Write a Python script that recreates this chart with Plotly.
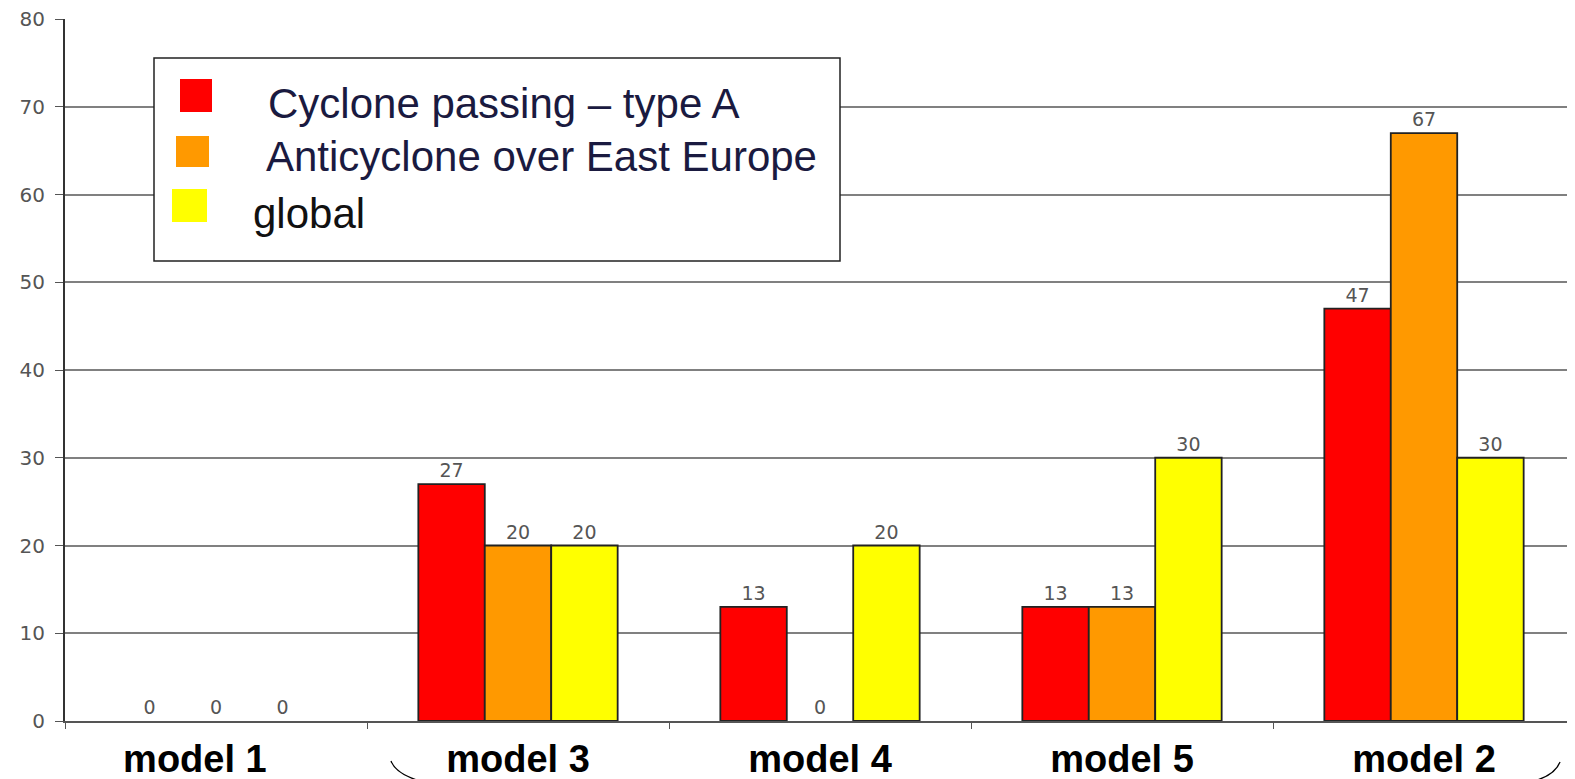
import plotly.graph_objects as go

categories = ["model 1", "model 3", "model 4", "model 5", "model 2"]
cyclone_a = [0, 27, 13, 13, 47]
anticyclone_ee = [0, 20, 0, 13, 67]
global_vals = [0, 20, 20, 30, 30]
series_names = ["Cyclone passing – type A", "Anticyclone over East Europe", "global"]
series_colors = ["#FF0000", "#FF9900", "#FFFF00"]
y_ticks = [0, 10, 20, 30, 40, 50, 60, 70, 80]
# first label sits slightly left of its category in the original
x_ticktext = ["model 1\u00a0\u00a0\u00a0\u00a0", "model 3", "model 4", "model 5", "model 2"]

# page body has an 8px margin; size the figure to fill the viewport
OFF = 8
W, H = 1575 - OFF, 779 - OFF
L, R, T, B = 57, 0, 11, 58
PW, PH = W - L - R, H - T - B


def sp(sx, sy):
    """screen pixel -> paper coords"""
    return (sx - OFF - L) / PW, (OFF + H - B - sy) / PH


fig = go.Figure()
for name, vals, col in zip(series_names, [cyclone_a, anticyclone_ee, global_vals], series_colors):
    fig.add_trace(go.Bar(
        x=categories, y=vals, name=name,
        marker=dict(color=col, line=dict(color="#222222", width=[1.8 if v else 0 for v in vals])),
        text=[str(v) for v in vals], textposition="outside",
        textfont=dict(family="DejaVu Sans", size=19, color="#555555"),
        cliponaxis=False,
    ))

shapes = []
annotations = []

# decorative brackets under the axis
a0, a1, a2 = sp(391, 761), sp(396, 774), sp(420, 781)
b0, b1, b2 = sp(1560, 762), sp(1555, 775), sp(1534, 781)
for p0, p1, p2 in [(a0, a1, a2), (b0, b1, b2)]:
    shapes.append(dict(type="path", xref="paper", yref="paper",
                       path=f"M {p0[0]},{p0[1]} Q {p1[0]},{p1[1]} {p2[0]},{p2[1]}",
                       line=dict(color="black", width=1.3)))

# legend box
lx0, ly0 = sp(154, 58)
lx1, ly1 = sp(840, 261)
shapes.append(dict(type="rect", xref="paper", yref="paper", x0=lx0, y0=ly0, x1=lx1, y1=ly1,
                   fillcolor="white", line=dict(color="#222222", width=1.5), layer="above"))
swatches = [((180, 79), (212, 112)), ((176, 136), (209, 167)), ((172, 189), (207, 222))]
text_pos = [(266, 103), (264, 156), (251, 213)]
text_cols = ["#1a1a40", "#1a1a40", "#111111"]
for (p, q), col, name, (tx, ty), tc in zip(swatches, series_colors, series_names, text_pos, text_cols):
    x0, y0 = sp(*p)
    x1, y1 = sp(*q)
    shapes.append(dict(type="rect", xref="paper", yref="paper", x0=x0, y0=y0, x1=x1, y1=y1,
                       fillcolor=col, line=dict(width=0), layer="above"))
    ax, ay = sp(tx, ty)
    annotations.append(dict(xref="paper", yref="paper", x=ax, y=ay, xanchor="left", yanchor="middle",
                            text=name, showarrow=False,
                            font=dict(family="Liberation Sans, Arial", size=42, color=tc)))

fig.update_layout(
    width=W, height=H,
    margin=dict(l=L, r=R, t=T, b=B),
    paper_bgcolor="white", plot_bgcolor="white",
    barmode="group", bargap=0.34, bargroupgap=0.0,
    font=dict(family="Liberation Sans, Arial"),
    showlegend=False,
    xaxis=dict(
        type="category",
        tickmode="array", tickvals=categories, ticktext=x_ticktext,
        showline=True, linecolor="#555555", linewidth=2,
        ticks="outside", tickson="boundaries", ticklen=6, tickcolor="#555555",
        tickfont=dict(family="Liberation Sans, Arial", size=38, color="black", weight="bold"),
        showgrid=False,
        ticklabelstandoff=3,
        ticklabeloverflow="allow",
        automargin=False,
    ),
    yaxis=dict(
        range=[0, 80], tickvals=y_ticks,
        showline=True, linecolor="#333333", linewidth=2,
        ticks="outside", ticklen=8, tickcolor="#555555",
        tickfont=dict(family="DejaVu Sans", size=20, color="#555555"),
        ticklabelstandoff=6,
        ticklabeloverflow="allow",
        showgrid=True, gridcolor="#808080", gridwidth=2,
        zeroline=False,
        automargin=False,
    ),
    shapes=shapes,
    annotations=annotations,
)

fig.write_html("out.html")
